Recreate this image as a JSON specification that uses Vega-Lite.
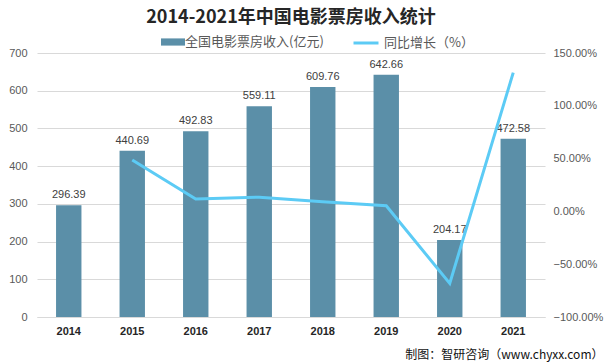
{
  "$schema": "https://vega.github.io/schema/vega-lite/v6.json",
  "width": 606,
  "height": 364,
  "autosize": {"type": "fit", "contains": "padding"},
  "padding": {"left": 8, "right": 3, "top": 9, "bottom": 4},
  "background": "white",
  "title": {
    "text": "2014-2021年中国电影票房收入统计",
    "font": "Noto Sans CJK SC",
    "fontSize": 18,
    "fontWeight": "bold",
    "color": "#262626",
    "anchor": "middle",
    "offset": 20
  },
  "data": {
    "values": [
      {"year": "2014", "revenue": 296.39, "growth": null},
      {"year": "2015", "revenue": 440.69, "growth": 0.4869},
      {"year": "2016", "revenue": 492.83, "growth": 0.1183},
      {"year": "2017", "revenue": 559.11, "growth": 0.1345},
      {"year": "2018", "revenue": 609.76, "growth": 0.0906},
      {"year": "2019", "revenue": 642.66, "growth": 0.054},
      {"year": "2020", "revenue": 204.17, "growth": -0.6823},
      {"year": "2021", "revenue": 472.58, "growth": 1.3146}
    ]
  },
  "encoding": {
    "x": {
      "field": "year",
      "type": "ordinal",
      "scale": {"paddingInner": 0.6, "paddingOuter": 0.3},
      "axis": {
        "labelAngle": 0,
        "labelFont": "Liberation Sans",
        "labelFontSize": 11,
        "labelFontWeight": "bold",
        "labelColor": "#262626",
        "labelPadding": 8,
        "ticks": false,
        "domainColor": "#d9d9d9",
        "title": "制图：智研咨询（www.chyxx.com）",
        "titleFont": "Noto Sans CJK SC",
        "titleFontSize": 12,
        "titleFontWeight": "normal",
        "titleColor": "#111111",
        "titleAnchor": "end",
        "titleAlign": "right",
        "titleX": 566,
        "titleY": 32
      }
    }
  },
  "layer": [
    {
      "mark": {"type": "bar"},
      "encoding": {
        "y": {
          "field": "revenue",
          "type": "quantitative",
          "scale": {"domain": [0, 700], "nice": false},
          "axis": {
            "values": [0, 100, 200, 300, 400, 500, 600, 700],
            "title": null,
            "labelFont": "Liberation Sans",
            "labelFontSize": 11,
            "labelColor": "#595959",
            "labelPadding": 10,
            "domain": false,
            "ticks": false,
            "gridColor": "#d9d9d9"
          }
        },
        "fill": {
          "datum": "全国电影票房收入(亿元)",
          "scale": {"range": ["#5b8fa8"]},
          "legend": {
            "orient": "none",
            "legendX": 128,
            "legendY": -19,
            "title": null,
            "symbolType": "M-1.5,-0.45H1.5V0.45H-1.5Z",
            "symbolSize": 256,
            "symbolStrokeWidth": 0,
            "labelFont": "Noto Sans CJK SC",
            "labelFontSize": 13,
            "labelColor": "#595959"
          }
        }
      }
    },
    {
      "mark": {"type": "text", "dy": -10, "font": "Liberation Sans", "fontSize": 11, "color": "#404040"},
      "encoding": {
        "y": {
          "field": "revenue",
          "type": "quantitative",
          "scale": {"domain": [0, 700], "nice": false},
          "axis": null
        },
        "text": {"field": "revenue", "type": "quantitative", "format": ".2f"}
      }
    },
    {
      "transform": [{"filter": "datum.growth != null"}],
      "mark": {"type": "line", "strokeWidth": 3},
      "encoding": {
        "y": {
          "field": "growth",
          "type": "quantitative",
          "scale": {"domain": [-1, 1.5], "nice": false},
          "axis": {
            "orient": "right",
            "values": [-1, -0.5, 0, 0.5, 1, 1.5],
            "format": ".2%",
            "title": null,
            "grid": false,
            "domain": false,
            "ticks": false,
            "labelFont": "Liberation Sans",
            "labelFontSize": 11,
            "labelColor": "#595959",
            "labelPadding": 8
          }
        },
        "stroke": {
          "datum": "同比增长（%）",
          "scale": {"range": ["#5ccbf5"]},
          "legend": {
            "orient": "none",
            "legendX": 315,
            "legendY": -24,
            "title": null,
            "symbolType": "stroke",
            "symbolSize": 625,
            "symbolStrokeWidth": 3,
            "labelFont": "Noto Sans CJK SC",
            "labelFontSize": 13,
            "labelColor": "#595959"
          }
        }
      }
    }
  ],
  "resolve": {"scale": {"y": "independent"}},
  "config": {"view": {"stroke": null}}
}
